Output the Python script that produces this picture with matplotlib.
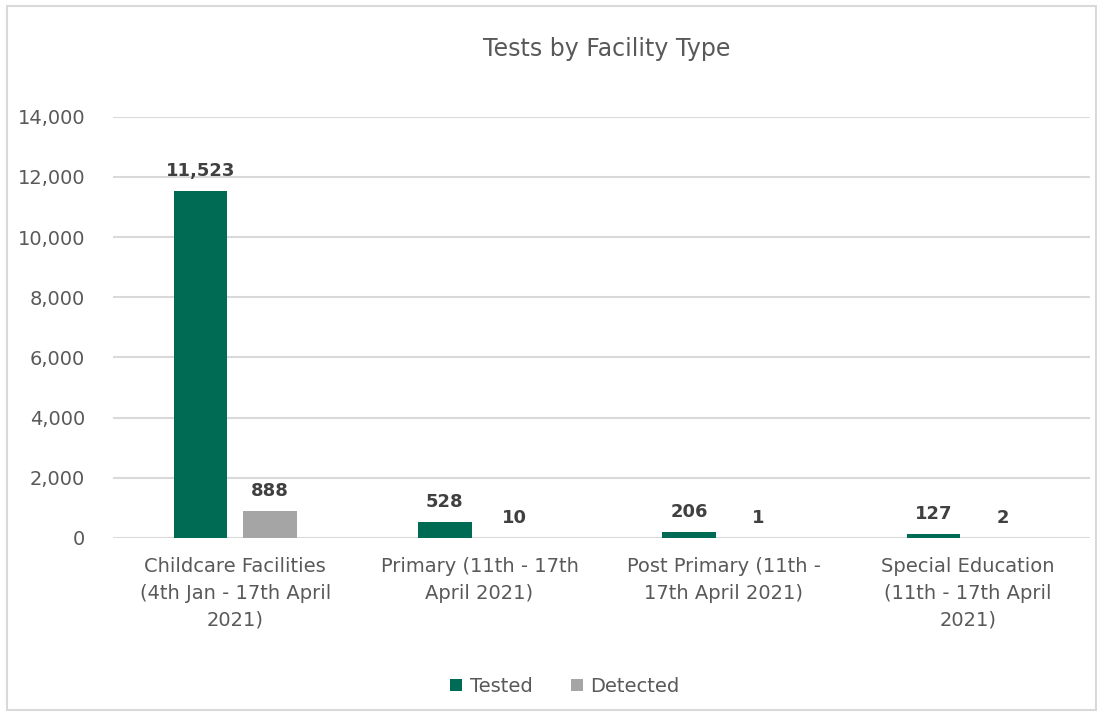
import matplotlib
matplotlib.use('Agg')
import matplotlib.pyplot as plt
from matplotlib.patches import Rectangle
import numpy as np

categories = ["Childcare Facilities\n(4th Jan - 17th April\n2021)",
              "Primary (11th - 17th\nApril 2021)",
              "Post Primary (11th -\n17th April 2021)",
              "Special Education\n(11th - 17th April\n2021)"]
tested = [11523, 528, 206, 127]
detected = [888, 10, 1, 2]

green = '#006B54'
grey = '#A5A5A5'
text_col = '#595959'

plt.rcParams['font.family'] = ['DejaVu Sans']

fig = plt.figure(figsize=(10.97, 7.15), dpi=100)
ax = fig.add_axes([0.103, 0.2476, 0.891, 0.589])

# outer chart border
fig.patches.append(Rectangle((0.0065, 0.007), 0.993, 0.985, transform=fig.transFigure,
                             fill=False, edgecolor='#D9D9D9', linewidth=1.5))

x = np.arange(len(categories))
w = 0.22
off = 0.142
b1 = ax.bar(x - off, tested, w, color=green, label='Tested', zorder=3)
b2 = ax.bar(x + off, detected, w, color=grey, label='Detected', zorder=3)

for bars in (b1, b2):
    for r in bars:
        v = r.get_height()
        ax.annotate(f"{int(v):,}", (r.get_x() + r.get_width() / 2, v),
                    xytext=(0, 8), textcoords='offset points', ha='center', va='bottom',
                    fontsize=13, fontweight='bold', color='#404040')

ax.set_xlim(-0.5, len(categories) - 0.5)
ax.set_ylim(0, 14000)
ax.set_yticks(np.arange(0, 14001, 2000))
ax.yaxis.set_major_formatter(matplotlib.ticker.FuncFormatter(lambda v, p: f"{int(v):,}"))
ax.set_xticks(x)
ax.set_xticklabels(categories, fontsize=14, color=text_col, linespacing=1.5)
ax.tick_params(axis='y', labelsize=14, labelcolor=text_col, length=0, pad=20)
ax.tick_params(axis='x', length=0, pad=14)
ax.grid(axis='y', color='#D9D9D9', linewidth=1.5, zorder=0)
for s in ax.spines.values():
    s.set_visible(False)

fig.text(0.553, 0.932, 'Tests by Facility Type', ha='center', va='center',
         fontsize=17, color=text_col)

fig.legend(handles=[b1, b2], loc='center', bbox_to_anchor=(0.515, 0.04), ncol=2,
           frameon=False, fontsize=14, labelcolor=text_col, handlelength=0.6,
           handleheight=0.6, handletextpad=0.4, columnspacing=2.0)

fig.savefig('out.png', dpi=100, facecolor='white')
